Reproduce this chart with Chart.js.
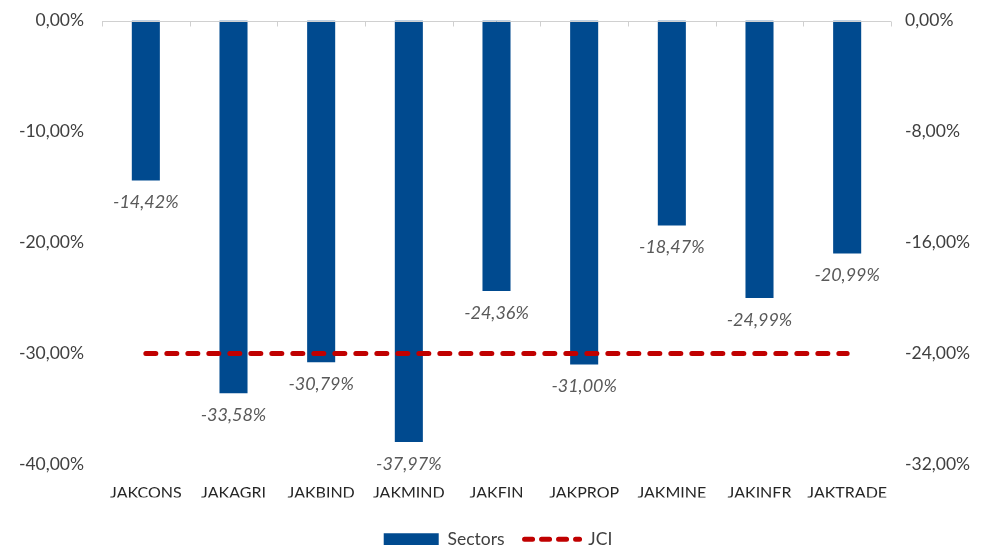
<!DOCTYPE html>
<html>
<head>
<meta charset="utf-8">
<title>Sector returns vs JCI</title>
<script src="https://cdn.jsdelivr.net/npm/chart.js@4"></script>
<style>
  html, body { margin: 0; padding: 0; background: #fff; }
  #wrap { width: 996px; height: 545px; }
</style>
</head>
<body>
<div id="wrap"><canvas id="chart"></canvas></div>
<script>
/* ---------- data ---------- */
const sectors   = ['JAKCONS', 'JAKAGRI', 'JAKBIND', 'JAKMIND', 'JAKFIN', 'JAKPROP', 'JAKMINE', 'JAKINFR', 'JAKTRADE'];
const sectorRet = [-14.42, -33.58, -30.79, -37.97, -24.36, -31.00, -18.47, -24.99, -20.99];
const jciRet    = [-24, -24, -24, -24, -24, -24, -24, -24, -24];
const leftTicks  = [0, -10, -20, -30, -40];
const rightTicks = [0, -8, -16, -24, -32];

const BLUE = '#004a8f';
const RED  = '#c00000';
const FONT = "Lato, 'Open Sans', sans-serif";

const pct = v => v.toFixed(2).replace('.', ',') + '%';

/* ---------- zero line with category tick marks ---------- */
const zeroLine = {
  id: 'zeroLine',
  afterDatasetsDraw(chart) {
    const {ctx, chartArea, scales} = chart;
    const y = Math.round(scales.y.getPixelForValue(0)) + 0.5;
    const step = (chartArea.right - chartArea.left) / sectors.length;
    ctx.save();
    ctx.strokeStyle = '#d0d0d0';
    ctx.lineWidth = 1;
    ctx.beginPath();
    ctx.moveTo(chartArea.left, y);
    ctx.lineTo(chartArea.right, y);
    for (let i = 0; i <= sectors.length; i++) {
      const x = Math.round(chartArea.left + i * step) + 0.5;
      ctx.moveTo(x, y);
      ctx.lineTo(x, y + 5);
    }
    ctx.stroke();
    ctx.restore();
  }
};

/* ---------- value labels under each bar ---------- */
const barLabels = {
  id: 'barLabels',
  afterDatasetsDraw(chart) {
    const {ctx} = chart;
    const meta = chart.getDatasetMeta(0);
    ctx.save();
    ctx.font = `italic 18px ${FONT}`;
    ctx.fillStyle = '#595959';
    ctx.textAlign = 'center';
    ctx.textBaseline = 'middle';
    meta.data.forEach((bar, i) => {
      ctx.fillText(pct(sectorRet[i]), bar.x, bar.y + 22);
    });
    ctx.restore();
  }
};

/* push the legend row a bit lower, closer to the canvas edge */
const legendNudge = {
  id: 'legendNudge',
  afterLayout(chart) {
    chart.legend.top += 13;
    chart.legend.bottom += 13;
  }
};

new Chart(document.getElementById('chart'), {
  data: {
    labels: sectors,
    datasets: [
      {
        type: 'bar',
        label: 'Sectors',
        data: sectorRet,
        backgroundColor: BLUE,
        borderWidth: 0,
        barPercentage: 0.32,
        categoryPercentage: 1,
        yAxisID: 'y',
        order: 2
      },
      {
        type: 'line',
        label: 'JCI',
        data: jciRet,
        borderColor: RED,
        borderWidth: 5,
        borderDash: [10, 11],
        borderCapStyle: 'round',
        pointRadius: 0,
        fill: false,
        yAxisID: 'y2',
        order: 1
      }
    ]
  },
  options: {
    responsive: true,
    maintainAspectRatio: false,
    animation: false,
    layout: { padding: { top: 2, left: 0, right: 0, bottom: 0 } },
    plugins: {
      tooltip: { enabled: false },
      legend: {
        position: 'bottom',
        labels: {
          color: '#404040',
          font: { family: FONT, size: 17.5 },
          usePointStyle: true,
          pointStyleWidth: 55,
          boxHeight: 12,
          padding: 20,
          generateLabels: () => [
            { text: 'Sectors', fillStyle: BLUE, strokeStyle: BLUE, lineWidth: 0,
              pointStyle: 'rect', datasetIndex: 0, fontColor: '#404040' },
            { text: 'JCI', fillStyle: RED, strokeStyle: RED, lineWidth: 5,
              lineDash: [8, 9], lineCap: 'round', pointStyle: 'line', datasetIndex: 1, fontColor: '#404040' }
          ]
        }
      }
    },
    scales: {
      x: {
        grid: { display: false },
        border: { display: false },
        ticks: { color: '#262626', font: { family: FONT, size: 16 }, padding: 11, maxRotation: 0 },
        afterFit: s => { s.height = 33; }
      },
      y: {
        position: 'left',
        min: -40, max: 0,
        grid: { display: false },
        border: { display: false },
        afterBuildTicks: s => { s.ticks = leftTicks.map(v => ({ value: v })); },
        ticks: { color: '#404040', font: { family: FONT, size: 17.5 }, padding: 10, callback: v => pct(v) },
        afterFit: s => { s.width = 102; }
      },
      y2: {
        position: 'right',
        min: -32, max: 0,
        grid: { display: false },
        border: { display: false },
        afterBuildTicks: s => { s.ticks = rightTicks.map(v => ({ value: v })); },
        ticks: { color: '#404040', font: { family: FONT, size: 17.5 }, padding: 6, callback: v => pct(v) },
        afterFit: s => { s.width = 105; }
      }
    }
  },
  plugins: [zeroLine, barLabels, legendNudge]
});
</script>
</body>
</html>
